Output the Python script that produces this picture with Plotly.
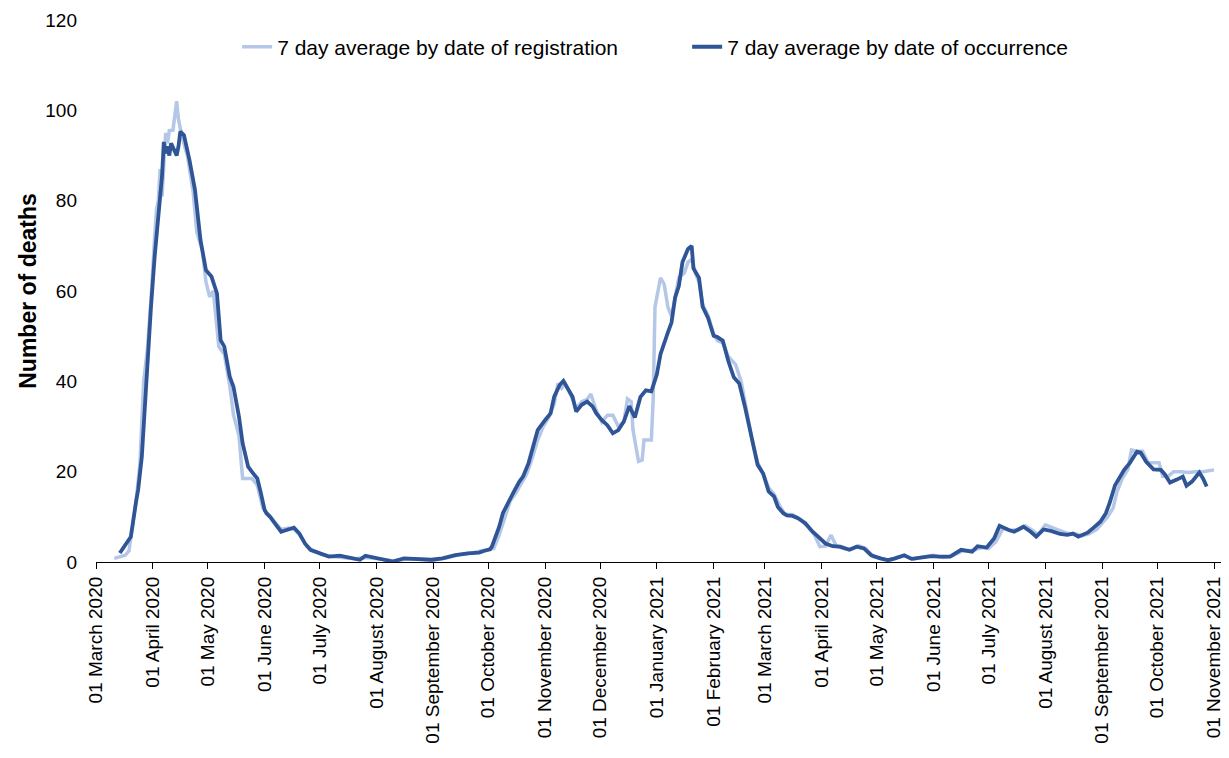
import plotly.graph_objects as go

# 7 day average by date of occurrence (dark)
occ_dates = [
    "2020-03-14", "2020-03-18", "2020-03-20", "2020-03-23", "2020-03-24", "2020-03-26", "2020-03-28",
    "2020-03-29", "2020-03-31", "2020-04-02", "2020-04-04", "2020-04-06", "2020-04-07", "2020-04-08",
    "2020-04-09", "2020-04-10", "2020-04-11", "2020-04-13", "2020-04-14", "2020-04-15", "2020-04-16",
    "2020-04-18", "2020-04-21", "2020-04-24", "2020-04-26", "2020-04-27", "2020-04-30", "2020-05-03",
    "2020-05-06", "2020-05-08", "2020-05-10", "2020-05-13", "2020-05-15", "2020-05-18", "2020-05-20",
    "2020-05-23", "2020-05-25", "2020-05-28", "2020-05-30", "2020-06-01", "2020-06-02", "2020-06-04",
    "2020-06-06", "2020-06-10", "2020-06-13", "2020-06-17", "2020-06-20", "2020-06-23", "2020-06-26",
    "2020-07-01", "2020-07-06", "2020-07-12", "2020-07-17", "2020-07-23", "2020-07-26", "2020-08-01",
    "2020-08-10", "2020-08-16", "2020-08-23", "2020-08-31", "2020-09-06", "2020-09-13", "2020-09-20",
    "2020-09-26", "2020-09-29", "2020-10-02", "2020-10-03", "2020-10-05", "2020-10-07", "2020-10-09",
    "2020-10-12", "2020-10-15", "2020-10-18", "2020-10-20", "2020-10-23", "2020-10-26", "2020-10-28",
    "2020-11-01", "2020-11-04", "2020-11-06", "2020-11-09", "2020-11-11", "2020-11-13", "2020-11-16",
    "2020-11-18", "2020-11-21", "2020-11-24", "2020-11-27", "2020-11-29", "2020-12-02", "2020-12-05",
    "2020-12-08", "2020-12-11", "2020-12-14", "2020-12-17", "2020-12-20", "2020-12-23", "2020-12-26",
    "2020-12-29", "2021-01-01", "2021-01-03", "2021-01-04", "2021-01-07", "2021-01-09", "2021-01-11",
    "2021-01-13", "2021-01-15", "2021-01-18", "2021-01-20", "2021-01-21", "2021-01-24", "2021-01-26",
    "2021-01-29", "2021-02-01", "2021-02-03", "2021-02-06", "2021-02-09", "2021-02-12", "2021-02-15",
    "2021-02-18", "2021-02-21", "2021-02-24", "2021-02-25", "2021-02-28", "2021-03-03", "2021-03-06",
    "2021-03-08", "2021-03-11", "2021-03-13", "2021-03-16", "2021-03-19", "2021-03-23", "2021-03-27",
    "2021-03-30", "2021-04-03", "2021-04-07", "2021-04-11", "2021-04-16", "2021-04-20", "2021-04-24",
    "2021-04-28", "2021-05-03", "2021-05-07", "2021-05-11", "2021-05-16", "2021-05-20", "2021-05-25",
    "2021-05-31", "2021-06-04", "2021-06-10", "2021-06-16", "2021-06-22", "2021-06-25", "2021-06-30",
    "2021-07-04", "2021-07-07", "2021-07-12", "2021-07-15", "2021-07-20", "2021-07-24", "2021-07-27",
    "2021-07-31", "2021-08-04", "2021-08-09", "2021-08-13", "2021-08-16", "2021-08-19", "2021-08-24",
    "2021-08-27", "2021-08-31", "2021-09-03", "2021-09-05", "2021-09-08", "2021-09-11", "2021-09-13",
    "2021-09-16", "2021-09-19", "2021-09-20", "2021-09-22", "2021-09-25", "2021-09-29", "2021-10-03",
    "2021-10-05", "2021-10-08", "2021-10-12", "2021-10-15", "2021-10-17", "2021-10-20", "2021-10-24",
    "2021-10-26", "2021-10-28",
]
occ_values = [
    2.0, 4.5, 5.6, 13.7, 16.0, 23.3, 38.0,
    45.0, 56.5, 67.6, 76.4, 85.3, 93.0, 90.5,
    92.0, 90.0, 92.7, 90.5, 90.0, 92.0, 95.3,
    94.5, 89.0, 82.4, 73.5, 71.3, 64.6, 63.2,
    59.5, 49.1, 47.7, 41.0, 38.8, 32.2, 26.3,
    21.1, 20.0, 18.5, 15.2, 11.5, 10.8, 10.0,
    8.9, 6.7, 7.1, 7.6, 6.3, 4.1, 2.7,
    1.9, 1.2, 1.4, 1.0, 0.5, 1.4, 0.8,
    0.1, 0.8, 0.7, 0.5, 0.8, 1.5, 1.9,
    2.1, 2.5, 2.8, 3.4, 5.6, 7.8, 10.8,
    13.3, 15.6, 17.8, 18.9, 21.9, 25.9, 29.2,
    31.4, 32.9, 36.6, 39.2, 40.1, 38.8, 36.6,
    33.3, 34.8, 35.5, 34.4, 32.9, 31.4, 30.3,
    28.5, 29.2, 31.1, 34.5, 32.0, 36.5, 38.0,
    37.8, 41.5, 46.0, 47.3, 50.8, 53.0, 58.6,
    61.1, 66.4, 69.3, 70.0, 65.0, 62.9, 56.5,
    54.0, 50.1, 49.8, 49.0, 44.5, 40.9, 39.5,
    34.5, 29.0, 24.0, 21.5, 19.6, 15.6, 14.5,
    12.2, 10.8, 10.3, 10.2, 9.7, 8.6, 6.7,
    5.6, 4.1, 3.5, 3.4, 2.7, 3.4, 3.0,
    1.5, 0.8, 0.4, 0.8, 1.5, 0.7, 1.0,
    1.3, 1.2, 1.2, 2.7, 2.3, 3.5, 3.2,
    5.2, 8.0, 7.1, 6.7, 7.8, 6.7, 5.6,
    7.2, 6.9, 6.2, 6.0, 6.3, 5.6, 6.5,
    7.5, 8.9, 10.8, 13.0, 17.0, 18.9, 20.4,
    21.9, 23.7, 24.4, 24.2, 22.2, 20.5, 20.4,
    19.5, 17.6, 18.3, 18.9, 16.9, 17.8, 19.8,
    18.5, 16.7,
]

# 7 day average by date of registration (light)
reg_dates = [
    "2020-03-11", "2020-03-14", "2020-03-17", "2020-03-19", "2020-03-21", "2020-03-23", "2020-03-25",
    "2020-03-27", "2020-03-29", "2020-03-31", "2020-04-02", "2020-04-03", "2020-04-04", "2020-04-05",
    "2020-04-06", "2020-04-07", "2020-04-08", "2020-04-09", "2020-04-10", "2020-04-12", "2020-04-14",
    "2020-04-15", "2020-04-17", "2020-04-20", "2020-04-23", "2020-04-25", "2020-04-28", "2020-04-30",
    "2020-05-02", "2020-05-04", "2020-05-06", "2020-05-07", "2020-05-10", "2020-05-13", "2020-05-15",
    "2020-05-18", "2020-05-20", "2020-05-25", "2020-05-28", "2020-05-31", "2020-06-03", "2020-06-06",
    "2020-06-10", "2020-06-14", "2020-06-17", "2020-06-20", "2020-06-24", "2020-06-27", "2020-07-02",
    "2020-07-08", "2020-07-14", "2020-07-20", "2020-07-27", "2020-08-03", "2020-08-10", "2020-08-17",
    "2020-08-25", "2020-09-01", "2020-09-08", "2020-09-15", "2020-09-22", "2020-09-29", "2020-10-04",
    "2020-10-07", "2020-10-10", "2020-10-13", "2020-10-16", "2020-10-19", "2020-10-22", "2020-10-25",
    "2020-10-28", "2020-10-31", "2020-11-03", "2020-11-06", "2020-11-08", "2020-11-10", "2020-11-12",
    "2020-11-15", "2020-11-18", "2020-11-21", "2020-11-24", "2020-11-26", "2020-11-29", "2020-12-02",
    "2020-12-05", "2020-12-08", "2020-12-11", "2020-12-14", "2020-12-16", "2020-12-18", "2020-12-19",
    "2020-12-21", "2020-12-22", "2020-12-24", "2020-12-25", "2020-12-29", "2020-12-30", "2020-12-31",
    "2021-01-03", "2021-01-05", "2021-01-07", "2021-01-09", "2021-01-11", "2021-01-13", "2021-01-16",
    "2021-01-18", "2021-01-20", "2021-01-22", "2021-01-24", "2021-01-26", "2021-01-29", "2021-02-01",
    "2021-02-03", "2021-02-06", "2021-02-09", "2021-02-13", "2021-02-16", "2021-02-19", "2021-02-22",
    "2021-02-25", "2021-02-28", "2021-03-03", "2021-03-06", "2021-03-09", "2021-03-12", "2021-03-16",
    "2021-03-20", "2021-03-24", "2021-03-28", "2021-03-31", "2021-04-03", "2021-04-06", "2021-04-09",
    "2021-04-13", "2021-04-17", "2021-04-21", "2021-04-25", "2021-04-29", "2021-05-04", "2021-05-08",
    "2021-05-12", "2021-05-16", "2021-05-21", "2021-05-26", "2021-06-01", "2021-06-06", "2021-06-11",
    "2021-06-17", "2021-06-23", "2021-06-27", "2021-07-01", "2021-07-05", "2021-07-09", "2021-07-13",
    "2021-07-17", "2021-07-21", "2021-07-25", "2021-07-28", "2021-08-01", "2021-08-05", "2021-08-10",
    "2021-08-14", "2021-08-18", "2021-08-21", "2021-08-25", "2021-08-29", "2021-09-01", "2021-09-04",
    "2021-09-07", "2021-09-09", "2021-09-12", "2021-09-15", "2021-09-17", "2021-09-20", "2021-09-23",
    "2021-09-26", "2021-09-29", "2021-10-02", "2021-10-04", "2021-10-07", "2021-10-10", "2021-10-14",
    "2021-10-18", "2021-10-22", "2021-10-26", "2021-11-01",
]
reg_values = [
    0.8, 1.2, 1.5, 2.5, 8.0, 14.0, 22.0,
    40.0, 47.0, 58.0, 72.0, 78.0, 80.0, 87.0,
    80.9, 88.0, 95.0, 92.7, 95.5, 95.6, 102.0,
    98.0, 94.0, 89.7, 82.0, 73.0, 69.0, 62.0,
    58.7, 60.0, 52.0, 47.7, 46.0, 39.0, 32.6,
    28.0, 18.5, 18.5, 17.0, 12.0, 10.5, 9.0,
    7.2, 7.5, 7.3, 6.0, 3.5, 2.5, 1.7,
    1.2, 1.0, 0.7, 1.0, 0.7, 0.3, 0.6,
    0.6, 0.4, 0.9, 1.6, 2.0, 2.6, 3.0,
    6.0, 10.0, 13.5, 15.2, 17.5, 19.5, 23.0,
    27.0, 30.0, 32.0, 35.0, 39.5, 38.5, 39.5,
    37.0, 34.0, 35.5, 36.0, 37.2, 33.5, 31.0,
    32.5, 32.5, 30.0, 31.0, 36.1, 35.5, 29.2,
    24.6, 22.3, 22.6, 27.0, 27.0, 36.0, 56.5,
    62.9, 61.5, 56.5, 54.4, 58.5, 63.0, 64.0,
    66.4, 67.0, 64.0, 62.0, 57.0, 54.5, 50.5,
    49.0, 48.5, 45.5, 43.7, 40.0, 33.0, 27.0,
    22.0, 19.5, 16.5, 15.0, 12.5, 10.5, 10.5,
    9.5, 8.0, 6.0, 3.4, 3.5, 6.0, 3.5,
    3.0, 2.8, 3.6, 3.0, 1.2, 0.6, 0.3,
    1.0, 1.4, 0.6, 1.1, 1.5, 1.0, 1.3,
    2.5, 2.6, 3.2, 3.0, 4.5, 7.5, 7.0,
    7.2, 8.0, 7.0, 6.0, 8.2, 7.5, 6.8,
    6.2, 6.2, 5.8, 6.3, 7.2, 8.5, 10.0,
    12.0, 15.5, 18.5, 20.5, 24.8, 24.5, 24.5,
    22.0, 22.0, 22.0, 19.0, 19.0, 20.0, 20.0,
    19.8, 20.0, 20.0, 20.4,
]

y_ticks = [0, 20, 40, 60, 80, 100, 120]

LIGHT = "#B4C7E7"
DARK = "#2F5597"
FONT = "Liberation Sans, Arial, sans-serif"

fig = go.Figure()
fig.add_trace(go.Scatter(
    x=reg_dates, y=reg_values, mode="lines",
    name="7 day average by date of registration",
    line=dict(color=LIGHT, width=3.5),
))
fig.add_trace(go.Scatter(
    x=occ_dates, y=occ_values, mode="lines",
    name="7 day average by date of occurrence",
    line=dict(color=DARK, width=3.8),
))

fig.update_layout(
    width=1221, height=750,
    margin=dict(l=88, r=4, t=12, b=196, autoexpand=False),
    paper_bgcolor="white", plot_bgcolor="white",
    font=dict(family=FONT, size=19, color="#000000"),
    showlegend=True,
    legend=dict(
        orientation="h", x=0.125, xanchor="left", y=0.950, yanchor="middle",
        font=dict(size=21, color="#000000"), bgcolor="rgba(0,0,0,0)",
        entrywidth=405, entrywidthmode="pixels", traceorder="normal",
    ),
    xaxis=dict(
        type="date", automargin=False,
        range=["2020-03-01", "2021-11-07"],
        tickmode="linear", tick0="2020-03-01", dtick="M1",
        tickformat="%d %B %Y", tickangle=-90,
        ticks="outside", ticklen=6, tickwidth=1.3, tickcolor="#000000",
        showline=True, linecolor="#000000", linewidth=1.3,
        showgrid=False, zeroline=False,
        tickfont=dict(size=19, color="#000000"),
    ),
    yaxis=dict(
        automargin=False,
        range=[0, 120], tickvals=y_ticks,
        showgrid=False, zeroline=False, showline=False,
        ticks="", ticklabelstandoff=18,
        tickfont=dict(size=19, color="#000000"),
        title=dict(text="<b>Number of deaths</b>", font=dict(size=23, color="#000000"), standoff=2),
    ),
)

fig.write_html("out.html")
